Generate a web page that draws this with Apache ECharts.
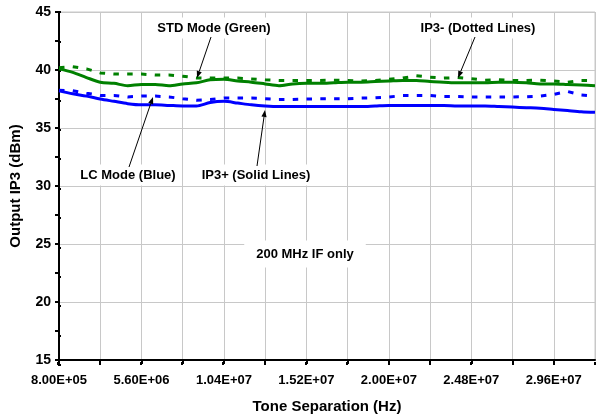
<!DOCTYPE html>
<html>
<head>
<meta charset="utf-8">
<script src="https://cdn.jsdelivr.net/npm/echarts@6/dist/echarts.min.js"></script>
<style>
  html, body { margin: 0; padding: 0; background: #fff; }
  #chart { width: 596px; height: 419px; }
</style>
</head>
<body>
<div id="chart"></div>
<script>
// tone separation (Hz)
const toneSep = [
  0.8e6, 1.6e6, 2.4e6, 3.2e6, 4.0e6, 4.8e6, 5.6e6, 6.4e6, 7.2e6, 8.0e6,
  8.8e6, 9.6e6, 10.4e6, 11.2e6, 12.0e6, 12.8e6, 13.6e6, 14.4e6, 15.2e6, 16.0e6,
  16.8e6, 17.6e6, 18.4e6, 19.2e6, 20.0e6, 20.8e6, 21.6e6, 22.4e6, 23.2e6, 24.0e6,
  24.8e6, 25.6e6, 26.4e6, 27.2e6, 28.0e6, 28.8e6, 29.6e6, 30.4e6, 31.2e6, 32.0e6
];

// STD mode (green), IP3+ solid
const stdPlus = [
  40.1, 39.8, 39.35, 38.95, 38.85, 38.65, 38.75, 38.75, 38.65, 38.8,
  38.9, 39.15, 39.2, 39.05, 38.95, 38.8, 38.65, 38.8, 38.85, 38.85,
  38.9, 38.95, 38.95, 39.0, 39.05, 39.1, 39.1, 39.0, 38.95, 38.9,
  38.9, 38.9, 38.95, 38.95, 38.9, 38.8, 38.8, 38.75, 38.7, 38.65
];
// STD mode (green), IP3- dotted
const stdMinus = [
  40.2, 40.28, 40.1, 39.75, 39.65, 39.65, 39.65, 39.57, 39.57, 39.46,
  39.32, 39.3, 39.3, 39.3, 39.23, 39.15, 39.1, 39.1, 39.1, 39.1,
  39.12, 39.1, 39.05, 39.1, 39.2, 39.3, 39.5, 39.38, 39.3, 39.35,
  39.25, 39.12, 39.17, 39.1, 39.1, 39.12, 39.05, 38.95, 39.1, 39.1
];
// LC mode (blue), IP3+ solid
const lcPlus = [
  38.2, 37.95, 37.75, 37.5, 37.3, 37.1, 37.0, 37.0, 36.95, 36.9,
  36.9, 37.2, 37.3, 37.15, 37.0, 36.9, 36.85, 36.85, 36.85, 36.85,
  36.85, 36.85, 36.85, 36.9, 36.95, 36.95, 36.95, 36.95, 36.95, 36.9,
  36.9, 36.9, 36.85, 36.8, 36.75, 36.7, 36.6, 36.5, 36.4, 36.35
];
// LC mode (blue), IP3- dotted
const lcMinus = [
  38.25, 38.22, 38.0, 37.8, 37.8, 37.68, 37.75, 37.75, 37.68, 37.52,
  37.4, 37.45, 37.58, 37.58, 37.58, 37.52, 37.46, 37.46, 37.5, 37.52,
  37.52, 37.52, 37.58, 37.6, 37.67, 37.8, 37.8, 37.8, 37.72, 37.72,
  37.68, 37.68, 37.68, 37.68, 37.7, 37.75, 37.9, 38.15, 37.85, 37.75
];

const xMin = 0.8e6, xMax = 32e6, xStep = 2.4e6;
const yMin = 15, yMax = 45, yStep = 5;

const FONT = '"Liberation Sans", Arial, sans-serif';
const GREEN = '#008000';
const BLUE = '#0000ff';

function sci(v) {
  const parts = v.toExponential(2).split('e');
  const n = parseInt(parts[1], 10);
  return parts[0] + 'E' + (n < 0 ? '-' : '+') + String(Math.abs(n)).padStart(2, '0');
}

function pairs(ys) {
  return toneSep.map((x, i) => [x, ys[i]]);
}

// annotation text with white box
function label(text, x, y, pad) {
  return {
    type: 'text', x: x, y: y, z: 50,
    style: {
      text: text, fill: '#000', font: 'bold 13px ' + FONT,
      align: 'center', verticalAlign: 'middle',
      backgroundColor: '#fff', padding: pad || [4, 5]
    }
  };
}

// thin arrow from (x1,y1) to (x2,y2)
function arrow(x1, y1, x2, y2) {
  const a = Math.atan2(y2 - y1, x2 - x1);
  const len = 7, w = 2.6;
  const bx = x2 - len * Math.cos(a), by = y2 - len * Math.sin(a);
  const nx = -Math.sin(a), ny = Math.cos(a);
  return [
    { type: 'line', z: 51, shape: { x1: x1, y1: y1, x2: bx, y2: by },
      style: { stroke: '#000', lineWidth: 1 } },
    { type: 'polygon', z: 51,
      shape: { points: [[x2, y2], [bx + nx * w, by + ny * w], [bx - nx * w, by - ny * w]] },
      style: { fill: '#000' } }
  ];
}

const chart = echarts.init(document.getElementById('chart'));

const gridBox = { left: 58, right: 1, top: 12, bottom: 54 };

const option = {
  animation: false,
  backgroundColor: '#fff',
  grid: [
    Object.assign({ show: true, borderColor: '#c8c8c8', borderWidth: 1, containLabel: false }, gridBox),
    Object.assign({ show: false, containLabel: false }, gridBox)
  ],
  xAxis: [
    {
      type: 'value', gridIndex: 0, min: xMin, max: xMax, interval: xStep,
      name: 'Tone Separation (Hz)', nameLocation: 'middle', nameGap: 39,
      nameTextStyle: { fontFamily: FONT, fontWeight: 'bold', fontSize: 15, color: '#000' },
      axisLine: { lineStyle: { color: '#000', width: 2 } },
      axisTick: { length: 4, lineStyle: { color: '#000', width: 2 } },
      axisLabel: {
        margin: 14, fontFamily: FONT, fontWeight: 'bold', fontSize: 13, color: '#000',
        showMaxLabel: false,
        formatter: v => (Math.round((v - xMin) / xStep) % 2 === 0 ? sci(v) : '')
      },
      splitLine: { show: true, lineStyle: { color: '#c8c8c8', width: 1 } }
    },
    {
      type: 'value', gridIndex: 1, min: xMin, max: xMax, interval: xStep,
      axisLine: { show: false },
      axisTick: { inside: true, length: 3, lineStyle: { color: '#000', width: 2 } },
      axisLabel: { show: false }, splitLine: { show: false }
    }
  ],
  yAxis: [
    {
      type: 'value', gridIndex: 0, min: yMin, max: yMax, interval: yStep,
      name: 'Output IP3 (dBm)', nameLocation: 'middle', nameGap: 36,
      nameTextStyle: { fontFamily: FONT, fontWeight: 'bold', fontSize: 15, color: '#000' },
      axisLine: { lineStyle: { color: '#000', width: 2 } },
      axisTick: { length: 4, lineStyle: { color: '#000', width: 2 } },
      minorTick: { show: true, splitNumber: 2, length: 4, lineStyle: { color: '#000', width: 2 } },
      axisLabel: { margin: 8, fontFamily: FONT, fontWeight: 'bold', fontSize: 14, color: '#000' },
      splitLine: { show: true, lineStyle: { color: '#c8c8c8', width: 1 } }
    },
    {
      type: 'value', gridIndex: 1, min: yMin, max: yMax, interval: yStep,
      axisLine: { show: false },
      axisTick: { inside: true, length: 3, lineStyle: { color: '#000', width: 2 } },
      minorTick: { show: true, splitNumber: 2, length: 3, lineStyle: { color: '#000', width: 2 } },
      axisLabel: { show: false }, splitLine: { show: false }
    }
  ],
  series: [
    {
      name: 'STD IP3-', type: 'line', xAxisIndex: 0, yAxisIndex: 0,
      data: pairs(stdMinus), showSymbol: false,
      lineStyle: { color: GREEN, width: 3, type: [5.5, 8.3], cap: 'butt' }
    },
    {
      name: 'LC IP3-', type: 'line', xAxisIndex: 0, yAxisIndex: 0,
      data: pairs(lcMinus), showSymbol: false,
      lineStyle: { color: BLUE, width: 3, type: [5.5, 8.3], cap: 'butt' }
    },
    {
      name: 'STD IP3+', type: 'line', xAxisIndex: 0, yAxisIndex: 0,
      data: pairs(stdPlus), showSymbol: false, smooth: 0.3,
      lineStyle: { color: GREEN, width: 3 }
    },
    {
      name: 'LC IP3+', type: 'line', xAxisIndex: 0, yAxisIndex: 0,
      data: pairs(lcPlus), showSymbol: false, smooth: 0.3,
      lineStyle: { color: BLUE, width: 3 }
    }
  ],
  graphic: [
    label('STD Mode (Green)', 214, 28),
    label('IP3- (Dotted Lines)', 478, 28),
    label('LC Mode (Blue)', 128, 175),
    label('IP3+ (Solid Lines)', 256, 175),
    label('200 MHz IF only', 305, 254, [7, 12])
  ]
    .concat(arrow(211, 37, 197, 78))
    .concat(arrow(475, 37, 458, 78))
    .concat(arrow(129, 167, 153, 97))
    .concat(arrow(257, 166, 265, 110))
};

chart.setOption(option);
</script>
</body>
</html>
